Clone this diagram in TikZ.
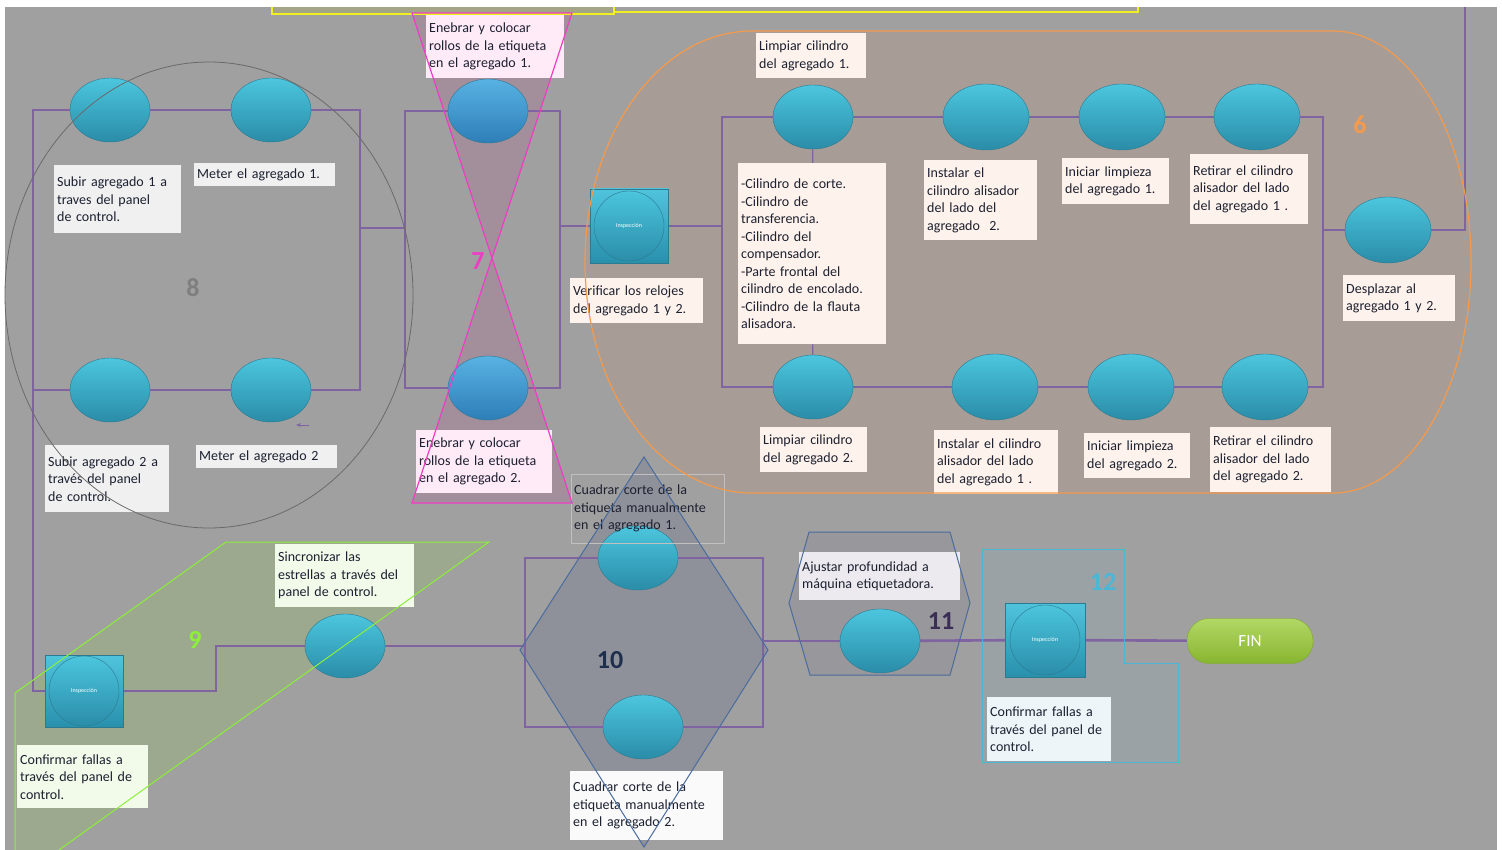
\documentclass[tikz,border=0pt]{standalone}
\usepackage{fontspec}
\setmainfont{Carlito}
\usetikzlibrary{shapes.geometric,arrows.meta}

\definecolor{bggray}{HTML}{A0A0A0}
\definecolor{flowpurple}{HTML}{8064A2}
\definecolor{tasktop}{HTML}{4CC6DE}
\definecolor{taskbot}{HTML}{2A8CA8}
\definecolor{taskedge}{HTML}{2B7A90}
\definecolor{bluetop}{HTML}{58B2E2}
\definecolor{bluebot}{HTML}{2E7EB8}
\definecolor{boxtop}{HTML}{50C4DC}
\definecolor{boxbot}{HTML}{2990AC}
\definecolor{notetext}{HTML}{1C2030}
\definecolor{fintop}{HTML}{B2D865}
\definecolor{finbot}{HTML}{88B530}
\definecolor{finedge}{HTML}{7FA830}
\definecolor{olivebar}{HTML}{A4A487}
\definecolor{yellowline}{HTML}{F0F020}
\definecolor{g6fill}{HTML}{A89D96}
\definecolor{g6line}{HTML}{F39A4C}
\definecolor{g7fill}{HTML}{A38E9C}
\definecolor{g7line}{HTML}{EE3DC4}
\definecolor{g8line}{HTML}{6A6A6A}
\definecolor{g8num}{HTML}{7F7F7F}
\definecolor{g9fill}{HTML}{9CA98E}
\definecolor{g9line}{HTML}{8CF03A}
\definecolor{g10fill}{HTML}{8E9199}
\definecolor{g10line}{HTML}{4A6C9E}
\definecolor{g10num}{HTML}{1F2E4C}
\definecolor{g11fill}{HTML}{98979C}
\definecolor{g11num}{HTML}{3B2E55}
\definecolor{g12fill}{HTML}{9BA2A6}
\definecolor{g12line}{HTML}{4DB6D6}
\definecolor{note8}{HTML}{F0F0F0}
\definecolor{note7}{HTML}{FFEAF7}
\definecolor{note6}{HTML}{FEF3EC}
\definecolor{note9}{HTML}{F2FAEA}
\definecolor{note10}{HTML}{FAFAFA}
\definecolor{note11}{HTML}{ECEAEE}
\definecolor{note12}{HTML}{EEF5F8}

\pgfdeclarelayer{back}
\pgfdeclarelayer{wires}
\pgfdeclarelayer{front}
\pgfsetlayers{back,wires,main,front}

\begin{document}
\begin{tikzpicture}[x=1pt,y=-1pt]
        \tikzstyle{task}=[ellipse,minimum width=80pt,minimum height=64pt,inner sep=0pt,draw=taskedge,top color=tasktop,bottom color=taskbot]
        \tikzstyle{wide}=[minimum width=86pt,minimum height=66pt]
        \tikzstyle{thread}=[top color=bluetop,bottom color=bluebot]
        \tikzstyle{inspect}=[rectangle,minimum width=78pt,minimum height=74pt,inner sep=0pt,draw=taskedge,top color=boxtop,bottom color=boxbot,text=white,font=\fontsize{6}{6}\selectfont,
            path picture={\shadedraw[top color=tasktop,bottom color=taskbot,draw=taskedge] (path picture bounding box.center) circle (35pt);}]
        \tikzstyle{finish}=[rectangle,rounded corners=22pt,minimum width=126pt,minimum height=45pt,top color=fintop,bottom color=finbot,draw=finedge,text=white,font=\fontsize{17}{17}\selectfont]
        \tikzstyle{note}=[anchor=north west,align=left,inner xsep=3pt,inner ysep=4pt,text=notetext,font=\fontsize{14}{17.5}\selectfont]
        \tikzstyle{flow}=[draw=flowpurple,line width=2.6pt]
        \tikzstyle{tie}=[draw=flowpurple,line width=1.2pt]
        \tikzstyle{grpnum}=[font=\bfseries\fontsize{26}{26}\selectfont]

        \useasboundingbox (0,0) rectangle (1502,850);

        % groups, filled below everything
        \begin{pgfonlayer}{back}
        \fill[white] (0,0) rectangle (1502,850);
        \fill[bggray] (5,7) rectangle (1497,850);
        \fill[olivebar] (272,7) rectangle (614,14);
        \fill[g6fill] (752,31) arc[start angle=-90,end angle=-270,x radius=167,y radius=231] -- (1333,493) arc[start angle=90,end angle=-90,x radius=138,y radius=231] -- cycle;
        \fill[g7fill] (412,13) -- (572,13) -- (492,258) -- cycle;
        \fill[g7fill] (492,258) -- (572,503) -- (412,503) -- cycle;
        \fill[g9fill] (15,693) -- (226,542) -- (489,542) -- (59,850) -- (15,850) -- cycle;
        \fill[g10fill] (644,457) -- (768,650) -- (644,847) -- (520,650) -- cycle;
        \fill[g11fill] (809,532) -- (950,532) -- (970,603) -- (950,675) -- (810,675) -- (789,603) -- cycle;
        \fill[g12fill] (982,549) -- (1124,549) -- (1124,663) -- (1178,663) -- (1178,762) -- (982,762) -- cycle;
        \end{pgfonlayer}

        \node[task] (a1) at (110,110) {};
        \node[task] (a2) at (271,110) {};
        \node[task] (a3) at (110,390) {};
        \node[task] (a4) at (271,390) {};
        \node[note,fill=note8,text width=121pt,minimum height=68pt] (na1) at (54,165) {Subir agregado 1 a\\traves del panel\\de control.};
        \node[note,fill=note8,text width=135pt,minimum height=23pt] (na2) at (194,163) {Meter el agregado 1.};
        \node[note,fill=note8,text width=118pt,minimum height=67pt] (na3) at (45,445) {Subir agregado 2 a\\través del panel\\de control.};
        \node[note,fill=note8,text width=135pt,minimum height=23pt] (na4) at (196,445) {Meter el agregado 2};

        \node[task,thread] (b1) at (488,111) {};
        \node[task,thread] (b2) at (488,388) {};
        \node[note,fill=note7,text width=132pt,minimum height=63pt] (nb1) at (426,15) {Enebrar y colocar\\rollos de la etiqueta\\en el agregado 1.};
        \node[note,fill=note7,text width=130pt,minimum height=63pt] (nb2) at (416,430) {Enebrar y colocar\\rollos de la etiqueta\\en el agregado 2.};

        \node[inspect] (insp1) at (629,226) {Inspección};
        \node[note,fill=note6,text width=127pt,minimum height=45pt] (ni1) at (570,278) {Verificar los relojes\\del agregado 1 y 2.};

        \node[task] (c1) at (813,117) {};
        \node[task,wide] (c2) at (986,117) {};
        \node[task,wide] (c3) at (1122,117) {};
        \node[task,wide] (c4) at (1257,117) {};
        \node[task,wide] (c5) at (1388,230) {};
        \node[task] (d1) at (813,387) {};
        \node[task,wide] (d2) at (995,387) {};
        \node[task,wide] (d3) at (1131,387) {};
        \node[task,wide] (d4) at (1265,387) {};
        \node[note,fill=note6,text width=104pt,minimum height=45pt] (nc1) at (756,33) {Limpiar cilindro\\del agregado 1.};
        \node[note,fill=note6,text width=142pt,minimum height=181pt] (cyl) at (738,163) {-Cilindro de corte.\\-Cilindro de\\transferencia.\\-Cilindro del\\compensador.\\-Parte frontal del\\cilindro de encolado.\\-Cilindro de la flauta\\alisadora.\\[4pt]};
        \node[note,fill=note6,text width=107pt,minimum height=80pt] (nc2) at (924,160) {Instalar el\\cilindro alisador\\del lado del\\agregado~~2.};
        \node[note,fill=note6,text width=101pt,minimum height=46pt] (nc3) at (1062,158) {Iniciar limpieza\\del agregado 1.};
        \node[note,fill=note6,text width=112pt,minimum height=70pt] (nc4) at (1190,154) {Retirar el cilindro\\alisador del lado\\del agregado 1 .};
        \node[note,fill=note6,text width=106pt,minimum height=46pt] (nc5) at (1343,275) {Desplazar al\\agregado 1 y 2.};
        \node[note,fill=note6,text width=101pt,minimum height=45pt] (nd1) at (760,427) {Limpiar cilindro\\del agregado 2.};
        \node[note,fill=note6,text width=118pt,minimum height=64pt] (nd2) at (934,430) {Instalar el cilindro\\alisador del lado\\del agregado 1 .};
        \node[note,fill=note6,text width=100pt,minimum height=45pt] (nd3) at (1084,433) {Iniciar limpieza\\del agregado 2.};
        \node[note,fill=note6,text width=115pt,minimum height=65pt] (nd4) at (1210,427) {Retirar el cilindro\\alisador del lado\\del agregado 2.};

        \node[inspect,minimum height=72pt] (insp2) at (84,691) {Inspección};
        \node[task] (e1) at (345,646) {};
        \node[note,fill=note9,text width=125pt,minimum height=63pt] (ni2) at (17,745) {Confirmar fallas a\\través del panel de\\control.};
        \node[note,fill=note9,text width=133pt,minimum height=63pt] (ne1) at (275,544) {Sincronizar las\\estrellas a través del\\panel de control.};

        \node[task] (f1) at (638,558) {};
        \node[task] (f2) at (643,727) {};
        \node[note,draw=note8!80!black,text width=147pt,minimum height=69pt] (nf1) at (571,474) {Cuadrar corte de la\\etiqueta manualmente\\en el agregado 1.};
        \node[note,fill=note10,text width=147pt,minimum height=69pt] (nf2) at (570,771) {Cuadrar corte de la\\etiqueta manualmente\\en el agregado 2.};

        \node[task] (g1) at (880,641) {};
        \node[note,fill=note11,text width=155pt,minimum height=48pt] (ng1) at (799,552) {Ajustar profundidad a\\máquina etiquetadora.};

        \node[inspect,minimum width=80pt] (insp3) at (1045,640) {Inspección};
        \node[note,fill=note12,text width=118pt,minimum height=64pt] (ni3) at (987,697) {Confirmar fallas a\\través del panel de\\control.};
        \node[finish] (fin) at (1250,641) {FIN};

        \begin{pgfonlayer}{wires}
        \coordinate (w8) at (33,110);
        \coordinate (e8) at (360,228);
        \coordinate (w7) at (405,228);
        \coordinate (e7) at (560,226);
        \coordinate (w6) at (722,226);
        \coordinate (e6) at (1323,230);
        \coordinate (top) at (1465,7);
        \coordinate (k9) at (216,646);
        \coordinate (w10) at (525,646);
        \coordinate (e10) at (763,641);
        \draw[flow] (a1) -- (a2);
        \draw[flow] (a3) -- (a4);
        \draw[flow] (a1) -- (w8) |- (insp2);
        \draw[flow] (a3) -- (a3 -| w8);
        \draw[flow] (a2) -| (e8) -- (w7);
        \draw[flow] (a4) -| (e8);
        \draw[flow] (b1) -| (w7);
        \draw[flow] (b2) -| (w7);
        \draw[flow] (b1) -| (e7);
        \draw[flow] (b2) -| (e7);
        \draw[flow] (e7) -- (insp1) -- (w6);
        \draw[flow] (c1) -| (w6);
        \draw[flow] (d1) -| (w6);
        \draw[flow] (c1) -- (c2) -- (c3) -- (c4);
        \draw[flow] (d1) -- (d2) -- (d3) -- (d4);
        \draw[flow] (c4) -| (e6);
        \draw[flow] (d4) -| (e6);
        \draw[flow] (e6) -- (c5);
        \draw[flow] (c5) -| (top);
        \draw[tie] (c1) -- (cyl);
        \draw[tie] (cyl) -- (d1);
        \draw[flow] (insp2) -| (k9) -- (e1);
        \draw[flow] (e1) -- (w10);
        \draw[flow] (f1) -| (w10);
        \draw[flow] (f2) -| (w10);
        \draw[flow] (f1) -| (e10);
        \draw[flow] (f2) -| (e10);
        \draw[flow] (e10) -- (g1);
        \draw[flow] (g1) -- (insp3) -- (fin);
        \end{pgfonlayer}

        \draw[flowpurple,line width=1pt,-{Stealth[length=5pt]}] (309,425) -- (296,425);

        % group outlines and numbers on top
        \begin{pgfonlayer}{front}
        \draw[yellowline,line width=1.5pt] (272,7) -- (272,14) -- (614,14) -- (614,7);
        \draw[yellowline,line width=1.5pt] (614,12) -- (1138,12) -- (1138,7);
        \draw[g8line,line width=0.8pt] (209,295) ellipse [x radius=204,y radius=233];
        \draw[g6line,line width=1.2pt] (752,31) arc[start angle=-90,end angle=-270,x radius=167,y radius=231] -- (1333,493) arc[start angle=90,end angle=-90,x radius=138,y radius=231] -- cycle;
        \draw[g7line,line width=1.2pt] (412,13) -- (572,13) -- (412,503) -- (572,503) -- cycle;
        \draw[g9line,line width=1pt] (15,850) -- (15,693) -- (226,542) -- (489,542) -- (59,850);
        \draw[g10line,line width=1pt] (644,457) -- (768,650) -- (644,847) -- (520,650) -- cycle;
        \draw[g10line,line width=1pt] (809,532) -- (950,532) -- (970,603) -- (950,675) -- (810,675) -- (789,603) -- cycle;
        \draw[g12line,line width=1pt] (982,549) -- (1124,549) -- (1124,663) -- (1178,663) -- (1178,762) -- (982,762) -- cycle;
        \node[grpnum,text=g8num] (n8) at (193,288) {8};
        \node[grpnum,text=g7line] (n7) at (478,261) {7};
        \node[grpnum,text=g6line] (n6) at (1360,125) {6};
        \node[grpnum,text=g9line] (n9) at (195,640) {9};
        \node[grpnum,text=g10num] (n10) at (610,660) {10};
        \node[grpnum,text=g11num] (n11) at (941,621) {11};
        \node[grpnum,text=g12line] (n12) at (1103,582) {12};
        \end{pgfonlayer}
\end{tikzpicture}
\end{document}
